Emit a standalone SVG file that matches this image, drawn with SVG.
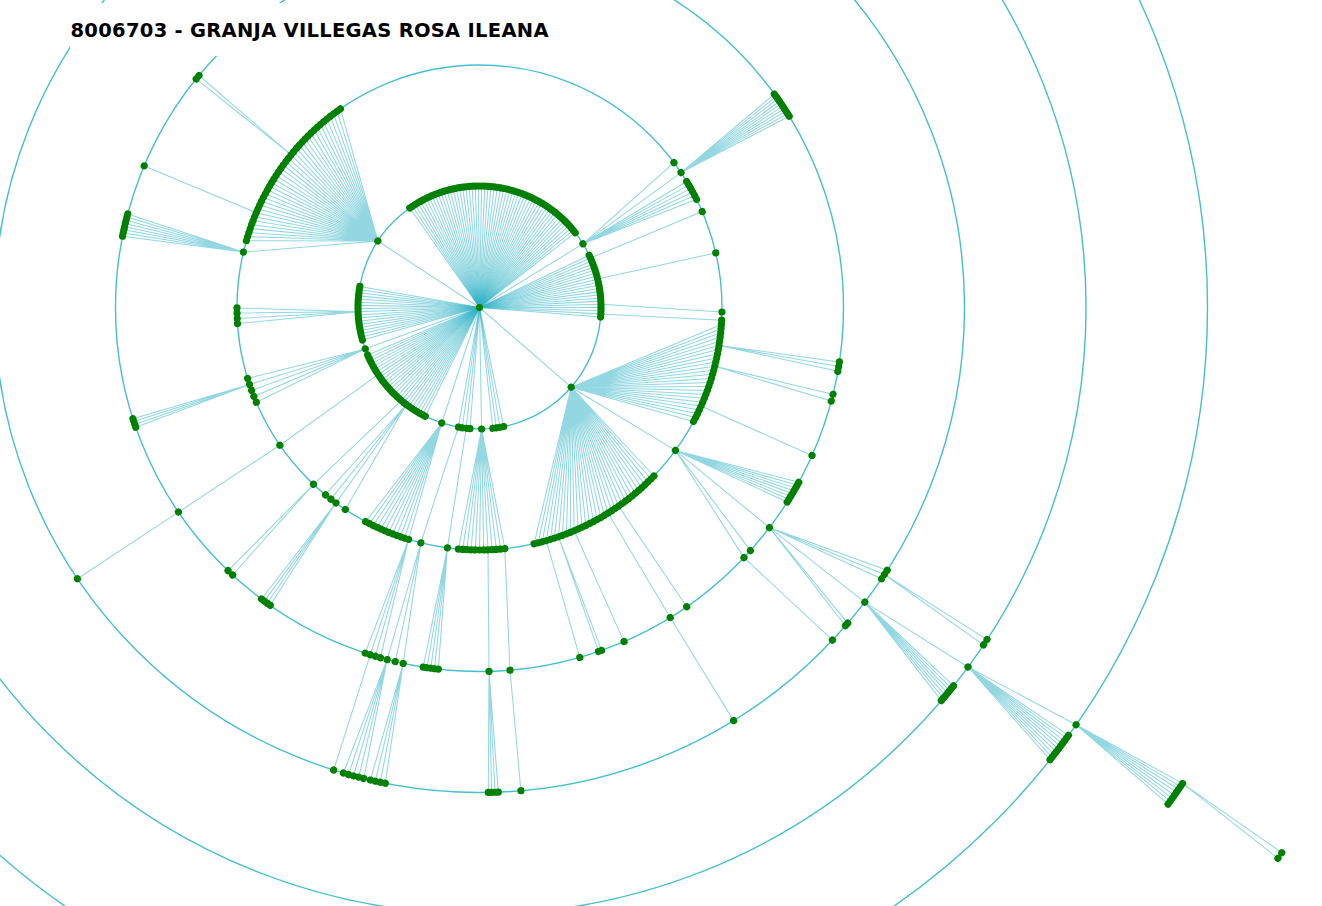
<svg xmlns="http://www.w3.org/2000/svg" xmlns:xlink="http://www.w3.org/1999/xlink" width="1322" height="906" viewBox="0 0 1322 906">
<style>
.ring{fill:none;stroke:#45bfd0;stroke-width:1.4}
.lk{fill:none;stroke:#38b6c8;stroke-opacity:.55;stroke-width:1.05}
.nd{fill:#008000}
.title{font-family:"DejaVu Sans","Liberation Sans",sans-serif;font-weight:bold;font-size:19.5px;fill:#000}
</style>
<defs>
<circle id="d1" cx="121.5" cy="0" r="3.6"/>
<circle id="d2" cx="242.5" cy="0" r="3.6"/>
<circle id="d3" cx="364" cy="0" r="3.6"/>
<circle id="d4" cx="485" cy="0" r="3.6"/>
<circle id="d5" cx="606.5" cy="0" r="3.6"/>
<circle id="d6" cx="728" cy="0" r="3.6"/>
<circle id="d7" cx="849" cy="0" r="3.6"/>
<circle id="d8" cx="970" cy="0" r="3.6"/>
<line id="s1" x1="0" y1="0" x2="121.5" y2="0"/>
</defs>
<rect width="1322" height="906" fill="#fff"/>
<g id="rings">
<circle class="ring" cx="479.5" cy="307.5" r="121.5"/>
<circle class="ring" cx="479.5" cy="307.5" r="242.5"/>
<circle class="ring" cx="479.5" cy="307.5" r="364"/>
<circle class="ring" cx="479.5" cy="307.5" r="485"/>
<circle class="ring" cx="479.5" cy="307.5" r="606.5"/>
<circle class="ring" cx="479.5" cy="307.5" r="728"/>
</g>
<g id="connectors" class="lk">
<g id="root-links" transform="translate(479.5 307.5)">
<use href="#s1" transform="rotate(-125)"/><use href="#s1" transform="rotate(-123.5)"/><use href="#s1" transform="rotate(-122)"/><use href="#s1" transform="rotate(-120.5)"/><use href="#s1" transform="rotate(-119)"/><use href="#s1" transform="rotate(-117.5)"/><use href="#s1" transform="rotate(-116)"/><use href="#s1" transform="rotate(-114.5)"/><use href="#s1" transform="rotate(-113)"/><use href="#s1" transform="rotate(-111.5)"/><use href="#s1" transform="rotate(-110)"/><use href="#s1" transform="rotate(-108.5)"/><use href="#s1" transform="rotate(-107)"/><use href="#s1" transform="rotate(-105.5)"/><use href="#s1" transform="rotate(-104)"/><use href="#s1" transform="rotate(-102.5)"/><use href="#s1" transform="rotate(-101)"/><use href="#s1" transform="rotate(-99.5)"/><use href="#s1" transform="rotate(-98)"/><use href="#s1" transform="rotate(-96.5)"/><use href="#s1" transform="rotate(-95)"/><use href="#s1" transform="rotate(-93.5)"/><use href="#s1" transform="rotate(-92)"/><use href="#s1" transform="rotate(-90.5)"/><use href="#s1" transform="rotate(-89)"/><use href="#s1" transform="rotate(-87.5)"/><use href="#s1" transform="rotate(-86)"/><use href="#s1" transform="rotate(-84.5)"/><use href="#s1" transform="rotate(-83)"/><use href="#s1" transform="rotate(-81.5)"/><use href="#s1" transform="rotate(-80)"/><use href="#s1" transform="rotate(-78.5)"/><use href="#s1" transform="rotate(-77)"/><use href="#s1" transform="rotate(-75.5)"/><use href="#s1" transform="rotate(-74)"/><use href="#s1" transform="rotate(-72.5)"/><use href="#s1" transform="rotate(-71)"/><use href="#s1" transform="rotate(-69.5)"/><use href="#s1" transform="rotate(-68)"/><use href="#s1" transform="rotate(-66.5)"/><use href="#s1" transform="rotate(-65)"/><use href="#s1" transform="rotate(-63.5)"/><use href="#s1" transform="rotate(-62)"/><use href="#s1" transform="rotate(-60.5)"/><use href="#s1" transform="rotate(-59)"/><use href="#s1" transform="rotate(-57.5)"/><use href="#s1" transform="rotate(-56)"/><use href="#s1" transform="rotate(-54.5)"/><use href="#s1" transform="rotate(-53)"/><use href="#s1" transform="rotate(-51.5)"/><use href="#s1" transform="rotate(-50)"/><use href="#s1" transform="rotate(-48.5)"/><use href="#s1" transform="rotate(-47)"/><use href="#s1" transform="rotate(-45.5)"/><use href="#s1" transform="rotate(-44)"/><use href="#s1" transform="rotate(-42.5)"/><use href="#s1" transform="rotate(-41)"/><use href="#s1" transform="rotate(-39.5)"/><use href="#s1" transform="rotate(-38)"/>
<use href="#s1" transform="rotate(-146.8)"/><use href="#s1" transform="rotate(-31.6)"/>
<use href="#s1" transform="rotate(-25.5)"/><use href="#s1" transform="rotate(-24)"/><use href="#s1" transform="rotate(-22.5)"/><use href="#s1" transform="rotate(-21)"/><use href="#s1" transform="rotate(-19.5)"/><use href="#s1" transform="rotate(-18)"/><use href="#s1" transform="rotate(-16.5)"/><use href="#s1" transform="rotate(-15)"/><use href="#s1" transform="rotate(-13.5)"/><use href="#s1" transform="rotate(-12)"/><use href="#s1" transform="rotate(-10.5)"/><use href="#s1" transform="rotate(-9)"/><use href="#s1" transform="rotate(-7.5)"/><use href="#s1" transform="rotate(-6)"/><use href="#s1" transform="rotate(-4.5)"/><use href="#s1" transform="rotate(-3)"/><use href="#s1" transform="rotate(-1.5)"/><use href="#s1" transform="rotate(0)"/><use href="#s1" transform="rotate(1.5)"/><use href="#s1" transform="rotate(3)"/><use href="#s1" transform="rotate(4.5)"/>
<use href="#s1" transform="rotate(41)"/>
<use href="#s1" transform="rotate(78.5)"/><use href="#s1" transform="rotate(80.3)"/><use href="#s1" transform="rotate(82)"/><use href="#s1" transform="rotate(83.7)"/>
<use href="#s1" transform="rotate(89)"/>
<use href="#s1" transform="rotate(94.5)"/><use href="#s1" transform="rotate(96.3)"/><use href="#s1" transform="rotate(98.2)"/><use href="#s1" transform="rotate(100)"/>
<use href="#s1" transform="rotate(108.1)"/>
<use href="#s1" transform="rotate(116.5)"/><use href="#s1" transform="rotate(118)"/><use href="#s1" transform="rotate(119.5)"/><use href="#s1" transform="rotate(121)"/><use href="#s1" transform="rotate(122.5)"/><use href="#s1" transform="rotate(124)"/><use href="#s1" transform="rotate(125.5)"/><use href="#s1" transform="rotate(127)"/><use href="#s1" transform="rotate(128.5)"/><use href="#s1" transform="rotate(130)"/><use href="#s1" transform="rotate(131.5)"/><use href="#s1" transform="rotate(133)"/><use href="#s1" transform="rotate(134.5)"/><use href="#s1" transform="rotate(136)"/><use href="#s1" transform="rotate(137.5)"/><use href="#s1" transform="rotate(139)"/><use href="#s1" transform="rotate(140.5)"/><use href="#s1" transform="rotate(142)"/><use href="#s1" transform="rotate(143.5)"/><use href="#s1" transform="rotate(145)"/><use href="#s1" transform="rotate(146.5)"/><use href="#s1" transform="rotate(148)"/><use href="#s1" transform="rotate(149.5)"/><use href="#s1" transform="rotate(151)"/><use href="#s1" transform="rotate(152.5)"/><use href="#s1" transform="rotate(154)"/><use href="#s1" transform="rotate(155.5)"/><use href="#s1" transform="rotate(157)"/>
<use href="#s1" transform="rotate(160.1)"/>
<use href="#s1" transform="rotate(164.5)"/><use href="#s1" transform="rotate(166)"/><use href="#s1" transform="rotate(167.5)"/><use href="#s1" transform="rotate(169)"/><use href="#s1" transform="rotate(170.5)"/><use href="#s1" transform="rotate(172)"/><use href="#s1" transform="rotate(173.5)"/><use href="#s1" transform="rotate(175)"/><use href="#s1" transform="rotate(176.5)"/><use href="#s1" transform="rotate(178)"/><use href="#s1" transform="rotate(179.5)"/><use href="#s1" transform="rotate(181)"/><use href="#s1" transform="rotate(182.5)"/><use href="#s1" transform="rotate(184)"/><use href="#s1" transform="rotate(185.5)"/><use href="#s1" transform="rotate(187)"/><use href="#s1" transform="rotate(188.5)"/><use href="#s1" transform="rotate(190)"/>
</g>
<path id="fanA" d="M377.8 241L246.4 240.7M377.8 241L247.6 236.6M377.8 241L248.9 232.6M377.8 241L250.2 228.5M377.8 241L251.6 224.6M377.8 241L253.1 220.6M377.8 241L254.7 216.7M377.8 241L256.3 212.8M377.8 241L258 208.9M377.8 241L259.7 205M377.8 241L261.5 201.2M377.8 241L263.4 197.4M377.8 241L265.4 193.7M377.8 241L267.4 189.9M377.8 241L269.5 186.3M377.8 241L271.6 182.6M377.8 241L273.9 179M377.8 241L276.1 175.4M377.8 241L278.5 171.9M377.8 241L280.8 168.4M377.8 241L283.3 165M377.8 241L285.8 161.6M377.8 241L288.4 158.2M377.8 241L291.1 154.9M377.8 241L293.7 151.6M377.8 241L296.5 148.4M377.8 241L299.3 145.2M377.8 241L302.1 142.1M377.8 241L305.1 139M377.8 241L308 136M377.8 241L311 133.1M377.8 241L314.1 130.1M377.8 241L317.2 127.3M377.8 241L320.4 124.5M377.8 241L323.6 121.7M377.8 241L326.9 119.1M377.8 241L330.2 116.4M377.8 241L333.6 113.8M377.8 241L337 111.3M377.8 241L340.4 108.8M377.8 241L243.4 252.1"/>
<path id="fanA-sub" d="M256.3 212.8L144.2 165.9M291.1 154.9L199 75.5M291.1 154.9L196.2 78.9M243.4 252.1L127.7 213.9M243.4 252.1L127 217.1M243.4 252.1L126.2 220.3M243.4 252.1L125.5 223.5M243.4 252.1L124.8 226.7M243.4 252.1L124.1 229.8M243.4 252.1L123.3 233M243.4 252.1L122.6 236.2"/>
<path id="fanB" d="M583 243.8L673.9 162.6M583 243.8L681 172.6M583 243.8L686.7 181.5M583 243.8L688.7 185.1M583 243.8L690.6 188.6M583 243.8L692.6 192.2M583 243.8L694.5 195.7M583 243.8L696.5 199.3M681 172.6L774.3 94.1M681 172.6L776 96.6M681 172.6L777.6 99M681 172.6L779.3 101.5M681 172.6L780.9 103.9M681 172.6L782.6 106.4M681 172.6L784.3 108.8M681 172.6L785.9 111.3M681 172.6L787.6 113.7M681 172.6L789.2 116.2"/>
<path id="right-singles" d="M590.5 258.1L702.2 211.6M597.6 279.1L715.8 252.9M601 304.3L722 312M600.8 313.9L721.7 320.2"/>
<path id="fanC" d="M571.2 387.2L721.4 324.4M571.2 387.2L721.1 328.7M571.2 387.2L720.7 332.8M571.2 387.2L720.2 337.1M571.2 387.2L719.7 341.3M571.2 387.2L719 345.4M571.2 387.2L718.3 349.6M571.2 387.2L717.5 353.8M571.2 387.2L716.7 357.9M571.2 387.2L715.8 362.1M571.2 387.2L714.8 366.2M571.2 387.2L713.7 370.3M571.2 387.2L712.6 374.3M571.2 387.2L711.4 378.4M571.2 387.2L710.1 382.4M571.2 387.2L708.8 386.5M571.2 387.2L707.4 390.4M571.2 387.2L705.9 394.4M571.2 387.2L704.4 398.3M571.2 387.2L702.7 402.2M571.2 387.2L701 406.1M571.2 387.2L699.3 410M571.2 387.2L697.5 413.8M571.2 387.2L695.6 417.6M571.2 387.2L693.6 421.4M571.2 387.2L675.4 450.4M571.2 387.2L653.9 476M571.2 387.2L651 479M571.2 387.2L648 481.9M571.2 387.2L644.9 484.9M571.2 387.2L641.8 487.7M571.2 387.2L638.6 490.5M571.2 387.2L635.4 493.3M571.2 387.2L632.1 496M571.2 387.2L628.8 498.6M571.2 387.2L625.4 501.2M571.2 387.2L622 503.7M571.2 387.2L618.6 506.2M571.2 387.2L615.1 508.5M571.2 387.2L611.6 510.9M571.2 387.2L608 513.1M571.2 387.2L604.4 515.4M571.2 387.2L600.8 517.5M571.2 387.2L597.1 519.6M571.2 387.2L593.4 521.6M571.2 387.2L589.6 523.6M571.2 387.2L585.8 525.5M571.2 387.2L582 527.3M571.2 387.2L578.1 529M571.2 387.2L574.2 530.7M571.2 387.2L570.3 532.4M571.2 387.2L566.4 533.9M571.2 387.2L562.4 535.4M571.2 387.2L558.5 536.8M571.2 387.2L554.4 538.1M571.2 387.2L550.4 539.4M571.2 387.2L546.3 540.6M571.2 387.2L542.3 541.7M571.2 387.2L538.2 542.8M571.2 387.2L534.1 543.8"/>
<path id="fanC-sub" d="M719 345.4L839.4 361.9M719 345.4L838.7 366.6M719 345.4L837.9 371.3M714.8 366.2L833 394.3M714.8 366.2L831.3 401.1M701 406.1L812 455.5M675.4 450.4L798.8 482.3M675.4 450.4L797.1 485.1M675.4 450.4L795.5 487.9M675.4 450.4L793.8 490.7M675.4 450.4L792.2 493.6M675.4 450.4L790.5 496.4M675.4 450.4L788.9 499.2M675.4 450.4L787.2 502M675.4 450.4L769.4 527.6M675.4 450.4L750.4 550.6M675.4 450.4L744 557.6M769.4 527.6L887.2 570.2M769.4 527.6L884.4 574.5M769.4 527.6L881.6 578.7M769.4 527.6L864.8 602.1M769.4 527.6L845.5 625.7M769.4 527.6L847.8 623.1M744 557.6L832.5 640.1M884.4 574.5L987 639.6M884.4 574.5L983.5 644.9M864.8 602.1L968 667M864.8 602.1L953.5 685.9M864.8 602.1L951.5 688.3M864.8 602.1L949.5 690.8M864.8 602.1L947.5 693.2M864.8 602.1L945.4 695.7M864.8 602.1L943.4 698.1M864.8 602.1L941.4 700.6M968 667L1076.1 724.8M968 667L1068.5 735.4M968 667L1066.4 738.1M968 667L1064.4 740.8M968 667L1062.3 743.5M968 667L1060.3 746.2M968 667L1058.2 748.9M968 667L1056.1 751.6M968 667L1054.1 754.3M968 667L1052 757M968 667L1050 759.7M1076.1 724.8L1182.6 783.4M1076.1 724.8L1180.5 786.4M1076.1 724.8L1178.5 789.3M1076.1 724.8L1176.4 792.3M1076.1 724.8L1174.3 795.3M1076.1 724.8L1172.2 798.3M1076.1 724.8L1170.2 801.2M1076.1 724.8L1168.1 804.2M1182.6 783.4L1281.8 852.7M1182.6 783.4L1277.9 858.3M546.3 540.6L579.8 657.4M558.5 536.8L601.6 650.4M558.5 536.8L598.6 651.4M574.2 530.7L624 641.6M608 513.1L670.2 617.5M618.6 506.2L686.7 606.7M670.2 617.5L733.6 720.6"/>
<path id="fanD" d="M481.6 429L504.8 548.7M481.6 429L500.7 549.1M481.6 429L496.4 549.4M481.6 429L492.2 549.7M481.6 429L488 549.9M481.6 429L483.7 550M481.6 429L479.5 550M481.6 429L475.3 550M481.6 429L471 549.9M481.6 429L466.8 549.7M481.6 429L462.6 549.4M481.6 429L458.4 549.1M488 549.9L489 671.4M489 671.4L488.3 792.4M489 671.4L491.6 792.3M489 671.4L495 792.2M489 671.4L498.3 792.1M504.8 548.7L510 670.2M510 670.2L520.9 790.7"/>
<path id="bottom-left" d="M466.2 428.3L447.4 547.9M447.4 547.9L438.3 669.2M447.4 547.9L434.5 668.7M447.4 547.9L430.8 668.2M447.4 547.9L427 667.6M447.4 547.9L423.2 667.1M458.4 427.2L420.8 542.8M420.8 542.8L387.1 659.6M420.8 542.8L395.2 661.6M420.8 542.8L403.2 663.4M387.1 659.6L363.8 778.5M387.1 659.6L358.7 777.1M387.1 659.6L353.6 775.8M387.1 659.6L348.5 774.4M387.1 659.6L343.4 773M403.2 663.4L385.3 783.3M403.2 663.4L380.3 782.2M403.2 663.4L375.4 781.2M403.2 663.4L370.4 780.1"/>
<path id="fanE" d="M441.7 423L408.6 539.4M441.7 423L404.6 538.1M441.7 423L400.5 536.8M441.7 423L396.6 535.4M441.7 423L392.6 533.9M441.7 423L388.7 532.4M441.7 423L384.8 530.7M441.7 423L380.9 529M441.7 423L377 527.3M441.7 423L373.2 525.5M441.7 423L369.4 523.6M441.7 423L365.7 521.6M408.6 539.4L380.4 657.7M408.6 539.4L375.3 656.2M408.6 539.4L370.3 654.6M408.6 539.4L365.2 653.1M370.3 654.6L333.7 770"/>
<path id="left-links" d="M406.4 404.5L345.3 509.5M406.4 404.5L335.9 502.9M406.4 404.5L330.9 499.1M406.4 404.5L325.2 494.6M335.9 502.9L270.2 605.3M335.9 502.9L267.3 603.2M335.9 502.9L264.4 601.1M335.9 502.9L261.5 599M401.4 400.6L313.5 484.3M313.5 484.3L228 570.7M313.5 484.3L232.6 575M378.2 374.6L279.9 445.2L178.4 512.1L77.4 578.7M365.3 348.9L256.3 402.2M365.3 348.9L253.9 396.4M365.3 348.9L251.6 390.4M365.3 348.9L249.5 384.4M365.3 348.9L247.6 378.4M249.5 384.4L135.7 427.2M249.5 384.4L134.8 424.4M249.5 384.4L133.8 421.6M249.5 384.4L132.9 418.8M358.1 311.7L237.5 323.6M358.1 311.7L237.2 318.5M358.1 311.7L237.1 313M358.1 311.7L237 307.9"/>
</g>
<g id="nodes" class="nd" transform="translate(479.5 307.5)">
<circle id="root" cx="0" cy="0" r="3.6"/>
<g id="ring1">
<use href="#d1" transform="rotate(-125)"/><use href="#d1" transform="rotate(-123.5)"/><use href="#d1" transform="rotate(-122)"/><use href="#d1" transform="rotate(-120.5)"/><use href="#d1" transform="rotate(-119)"/><use href="#d1" transform="rotate(-117.5)"/><use href="#d1" transform="rotate(-116)"/><use href="#d1" transform="rotate(-114.5)"/><use href="#d1" transform="rotate(-113)"/><use href="#d1" transform="rotate(-111.5)"/><use href="#d1" transform="rotate(-110)"/><use href="#d1" transform="rotate(-108.5)"/><use href="#d1" transform="rotate(-107)"/><use href="#d1" transform="rotate(-105.5)"/><use href="#d1" transform="rotate(-104)"/><use href="#d1" transform="rotate(-102.5)"/><use href="#d1" transform="rotate(-101)"/><use href="#d1" transform="rotate(-99.5)"/><use href="#d1" transform="rotate(-98)"/><use href="#d1" transform="rotate(-96.5)"/><use href="#d1" transform="rotate(-95)"/><use href="#d1" transform="rotate(-93.5)"/><use href="#d1" transform="rotate(-92)"/><use href="#d1" transform="rotate(-90.5)"/><use href="#d1" transform="rotate(-89)"/><use href="#d1" transform="rotate(-87.5)"/><use href="#d1" transform="rotate(-86)"/><use href="#d1" transform="rotate(-84.5)"/><use href="#d1" transform="rotate(-83)"/><use href="#d1" transform="rotate(-81.5)"/><use href="#d1" transform="rotate(-80)"/><use href="#d1" transform="rotate(-78.5)"/><use href="#d1" transform="rotate(-77)"/><use href="#d1" transform="rotate(-75.5)"/><use href="#d1" transform="rotate(-74)"/><use href="#d1" transform="rotate(-72.5)"/><use href="#d1" transform="rotate(-71)"/><use href="#d1" transform="rotate(-69.5)"/><use href="#d1" transform="rotate(-68)"/><use href="#d1" transform="rotate(-66.5)"/><use href="#d1" transform="rotate(-65)"/><use href="#d1" transform="rotate(-63.5)"/><use href="#d1" transform="rotate(-62)"/><use href="#d1" transform="rotate(-60.5)"/><use href="#d1" transform="rotate(-59)"/><use href="#d1" transform="rotate(-57.5)"/><use href="#d1" transform="rotate(-56)"/><use href="#d1" transform="rotate(-54.5)"/><use href="#d1" transform="rotate(-53)"/><use href="#d1" transform="rotate(-51.5)"/><use href="#d1" transform="rotate(-50)"/><use href="#d1" transform="rotate(-48.5)"/><use href="#d1" transform="rotate(-47)"/><use href="#d1" transform="rotate(-45.5)"/><use href="#d1" transform="rotate(-44)"/><use href="#d1" transform="rotate(-42.5)"/><use href="#d1" transform="rotate(-41)"/><use href="#d1" transform="rotate(-39.5)"/><use href="#d1" transform="rotate(-38)"/>
<use id="p1a" href="#d1" transform="rotate(-146.8)"/><use id="p1b" href="#d1" transform="rotate(-31.6)"/>
<use href="#d1" transform="rotate(-25.5)"/><use href="#d1" transform="rotate(-24)"/><use href="#d1" transform="rotate(-22.5)"/><use href="#d1" transform="rotate(-21)"/><use href="#d1" transform="rotate(-19.5)"/><use href="#d1" transform="rotate(-18)"/><use href="#d1" transform="rotate(-16.5)"/><use href="#d1" transform="rotate(-15)"/><use href="#d1" transform="rotate(-13.5)"/><use href="#d1" transform="rotate(-12)"/><use href="#d1" transform="rotate(-10.5)"/><use href="#d1" transform="rotate(-9)"/><use href="#d1" transform="rotate(-7.5)"/><use href="#d1" transform="rotate(-6)"/><use href="#d1" transform="rotate(-4.5)"/><use href="#d1" transform="rotate(-3)"/><use href="#d1" transform="rotate(-1.5)"/><use href="#d1" transform="rotate(0)"/><use href="#d1" transform="rotate(1.5)"/><use href="#d1" transform="rotate(3)"/><use href="#d1" transform="rotate(4.5)"/>
<use id="p1c" href="#d1" transform="rotate(41)"/>
<use href="#d1" transform="rotate(78.5)"/><use href="#d1" transform="rotate(80.3)"/><use href="#d1" transform="rotate(82)"/><use href="#d1" transform="rotate(83.7)"/>
<use id="p1d" href="#d1" transform="rotate(89)"/>
<use href="#d1" transform="rotate(94.5)"/><use href="#d1" transform="rotate(96.3)"/><use href="#d1" transform="rotate(98.2)"/><use href="#d1" transform="rotate(100)"/>
<use id="p1e" href="#d1" transform="rotate(108.1)"/>
<use href="#d1" transform="rotate(116.5)"/><use href="#d1" transform="rotate(118)"/><use href="#d1" transform="rotate(119.5)"/><use href="#d1" transform="rotate(121)"/><use href="#d1" transform="rotate(122.5)"/><use href="#d1" transform="rotate(124)"/><use href="#d1" transform="rotate(125.5)"/><use href="#d1" transform="rotate(127)"/><use href="#d1" transform="rotate(128.5)"/><use href="#d1" transform="rotate(130)"/><use href="#d1" transform="rotate(131.5)"/><use href="#d1" transform="rotate(133)"/><use href="#d1" transform="rotate(134.5)"/><use href="#d1" transform="rotate(136)"/><use href="#d1" transform="rotate(137.5)"/><use href="#d1" transform="rotate(139)"/><use href="#d1" transform="rotate(140.5)"/><use href="#d1" transform="rotate(142)"/><use href="#d1" transform="rotate(143.5)"/><use href="#d1" transform="rotate(145)"/><use href="#d1" transform="rotate(146.5)"/><use href="#d1" transform="rotate(148)"/><use href="#d1" transform="rotate(149.5)"/><use href="#d1" transform="rotate(151)"/><use href="#d1" transform="rotate(152.5)"/><use href="#d1" transform="rotate(154)"/><use href="#d1" transform="rotate(155.5)"/><use href="#d1" transform="rotate(157)"/>
<use id="p1f" href="#d1" transform="rotate(160.1)"/>
<use href="#d1" transform="rotate(164.5)"/><use href="#d1" transform="rotate(166)"/><use href="#d1" transform="rotate(167.5)"/><use href="#d1" transform="rotate(169)"/><use href="#d1" transform="rotate(170.5)"/><use href="#d1" transform="rotate(172)"/><use href="#d1" transform="rotate(173.5)"/><use href="#d1" transform="rotate(175)"/><use href="#d1" transform="rotate(176.5)"/><use href="#d1" transform="rotate(178)"/><use href="#d1" transform="rotate(179.5)"/><use href="#d1" transform="rotate(181)"/><use href="#d1" transform="rotate(182.5)"/><use href="#d1" transform="rotate(184)"/><use href="#d1" transform="rotate(185.5)"/><use href="#d1" transform="rotate(187)"/><use href="#d1" transform="rotate(188.5)"/><use href="#d1" transform="rotate(190)"/>
</g>
<g id="ring2">
<use href="#d2" transform="rotate(-164)"/><use href="#d2" transform="rotate(-163)"/><use href="#d2" transform="rotate(-162)"/><use href="#d2" transform="rotate(-161)"/><use href="#d2" transform="rotate(-160)"/><use href="#d2" transform="rotate(-159)"/><use href="#d2" transform="rotate(-158)"/><use href="#d2" transform="rotate(-157)"/><use href="#d2" transform="rotate(-156)"/><use href="#d2" transform="rotate(-155)"/><use href="#d2" transform="rotate(-154)"/><use href="#d2" transform="rotate(-153)"/><use href="#d2" transform="rotate(-152)"/><use href="#d2" transform="rotate(-151)"/><use href="#d2" transform="rotate(-150)"/><use href="#d2" transform="rotate(-149)"/><use href="#d2" transform="rotate(-148)"/><use href="#d2" transform="rotate(-147)"/><use href="#d2" transform="rotate(-146)"/><use href="#d2" transform="rotate(-145)"/><use href="#d2" transform="rotate(-144)"/><use href="#d2" transform="rotate(-143)"/><use href="#d2" transform="rotate(-142)"/><use href="#d2" transform="rotate(-141)"/><use href="#d2" transform="rotate(-140)"/><use href="#d2" transform="rotate(-139)"/><use href="#d2" transform="rotate(-138)"/><use href="#d2" transform="rotate(-137)"/><use href="#d2" transform="rotate(-136)"/><use href="#d2" transform="rotate(-135)"/><use href="#d2" transform="rotate(-134)"/><use href="#d2" transform="rotate(-133)"/><use href="#d2" transform="rotate(-132)"/><use href="#d2" transform="rotate(-131)"/><use href="#d2" transform="rotate(-130)"/><use href="#d2" transform="rotate(-129)"/><use href="#d2" transform="rotate(-128)"/><use href="#d2" transform="rotate(-127)"/><use href="#d2" transform="rotate(-126)"/><use href="#d2" transform="rotate(-125)"/>
<use href="#d2" transform="rotate(-166.8)"/>
<use href="#d2" transform="rotate(-36.7)"/><use href="#d2" transform="rotate(-33.8)"/><use href="#d2" transform="rotate(-31.3)"/><use href="#d2" transform="rotate(-30.3)"/><use href="#d2" transform="rotate(-29.4)"/><use href="#d2" transform="rotate(-28.4)"/><use href="#d2" transform="rotate(-27.5)"/><use href="#d2" transform="rotate(-26.5)"/>
<use href="#d2" transform="rotate(-23.3)"/><use href="#d2" transform="rotate(-13)"/><use href="#d2" transform="rotate(1.06)"/><use href="#d2" transform="rotate(3)"/>
<use href="#d2" transform="rotate(4)"/><use href="#d2" transform="rotate(5)"/><use href="#d2" transform="rotate(6)"/><use href="#d2" transform="rotate(7)"/><use href="#d2" transform="rotate(8)"/><use href="#d2" transform="rotate(9)"/><use href="#d2" transform="rotate(10)"/><use href="#d2" transform="rotate(11)"/><use href="#d2" transform="rotate(12)"/><use href="#d2" transform="rotate(13)"/><use href="#d2" transform="rotate(14)"/><use href="#d2" transform="rotate(15)"/><use href="#d2" transform="rotate(16)"/><use href="#d2" transform="rotate(17)"/><use href="#d2" transform="rotate(18)"/><use href="#d2" transform="rotate(19)"/><use href="#d2" transform="rotate(20)"/><use href="#d2" transform="rotate(21)"/><use href="#d2" transform="rotate(22)"/><use href="#d2" transform="rotate(23)"/><use href="#d2" transform="rotate(24)"/><use href="#d2" transform="rotate(25)"/><use href="#d2" transform="rotate(26)"/><use href="#d2" transform="rotate(27)"/><use href="#d2" transform="rotate(28)"/>
<use href="#d2" transform="rotate(36.1)"/>
<use href="#d2" transform="rotate(44)"/><use href="#d2" transform="rotate(45)"/><use href="#d2" transform="rotate(46)"/><use href="#d2" transform="rotate(47)"/><use href="#d2" transform="rotate(48)"/><use href="#d2" transform="rotate(49)"/><use href="#d2" transform="rotate(50)"/><use href="#d2" transform="rotate(51)"/><use href="#d2" transform="rotate(52)"/><use href="#d2" transform="rotate(53)"/><use href="#d2" transform="rotate(54)"/><use href="#d2" transform="rotate(55)"/><use href="#d2" transform="rotate(56)"/><use href="#d2" transform="rotate(57)"/><use href="#d2" transform="rotate(58)"/><use href="#d2" transform="rotate(59)"/><use href="#d2" transform="rotate(60)"/><use href="#d2" transform="rotate(61)"/><use href="#d2" transform="rotate(62)"/><use href="#d2" transform="rotate(63)"/><use href="#d2" transform="rotate(64)"/><use href="#d2" transform="rotate(65)"/><use href="#d2" transform="rotate(66)"/><use href="#d2" transform="rotate(67)"/><use href="#d2" transform="rotate(68)"/><use href="#d2" transform="rotate(69)"/><use href="#d2" transform="rotate(70)"/><use href="#d2" transform="rotate(71)"/><use href="#d2" transform="rotate(72)"/><use href="#d2" transform="rotate(73)"/><use href="#d2" transform="rotate(74)"/><use href="#d2" transform="rotate(75)"/><use href="#d2" transform="rotate(76)"/><use href="#d2" transform="rotate(77)"/>
<use href="#d2" transform="rotate(84)"/><use href="#d2" transform="rotate(85)"/><use href="#d2" transform="rotate(86)"/><use href="#d2" transform="rotate(87)"/><use href="#d2" transform="rotate(88)"/><use href="#d2" transform="rotate(89)"/><use href="#d2" transform="rotate(90)"/><use href="#d2" transform="rotate(91)"/><use href="#d2" transform="rotate(92)"/><use href="#d2" transform="rotate(93)"/><use href="#d2" transform="rotate(94)"/><use href="#d2" transform="rotate(95)"/>
<use href="#d2" transform="rotate(97.6)"/><use href="#d2" transform="rotate(104)"/>
<use href="#d2" transform="rotate(107)"/><use href="#d2" transform="rotate(108)"/><use href="#d2" transform="rotate(109)"/><use href="#d2" transform="rotate(110)"/><use href="#d2" transform="rotate(111)"/><use href="#d2" transform="rotate(112)"/><use href="#d2" transform="rotate(113)"/><use href="#d2" transform="rotate(114)"/><use href="#d2" transform="rotate(115)"/><use href="#d2" transform="rotate(116)"/><use href="#d2" transform="rotate(117)"/><use href="#d2" transform="rotate(118)"/>
<use href="#d2" transform="rotate(123.6)"/><use href="#d2" transform="rotate(126.3)"/><use href="#d2" transform="rotate(127.8)"/><use href="#d2" transform="rotate(129.4)"/><use href="#d2" transform="rotate(133.2)"/><use href="#d2" transform="rotate(145.4)"/>
<use href="#d2" transform="rotate(157)"/><use href="#d2" transform="rotate(158.5)"/><use href="#d2" transform="rotate(160)"/><use href="#d2" transform="rotate(161.5)"/><use href="#d2" transform="rotate(163)"/>
<use href="#d2" transform="rotate(176.2)"/><use href="#d2" transform="rotate(177.4)"/><use href="#d2" transform="rotate(178.7)"/><use href="#d2" transform="rotate(179.9)"/>
</g>
<g id="ring3">
<use href="#d3" transform="rotate(-165.1)"/><use href="#d3" transform="rotate(-165.6)"/><use href="#d3" transform="rotate(-166.1)"/><use href="#d3" transform="rotate(-166.6)"/><use href="#d3" transform="rotate(-167.2)"/><use href="#d3" transform="rotate(-167.7)"/><use href="#d3" transform="rotate(-168.2)"/><use href="#d3" transform="rotate(-168.7)"/>
<use href="#d3" transform="rotate(-157.1)"/><use href="#d3" transform="rotate(-140.4)"/><use href="#d3" transform="rotate(-141.1)"/>
<use href="#d3" transform="rotate(-35.9)"/><use href="#d3" transform="rotate(-35.43)"/><use href="#d3" transform="rotate(-34.97)"/><use href="#d3" transform="rotate(-34.5)"/><use href="#d3" transform="rotate(-34.03)"/><use href="#d3" transform="rotate(-33.57)"/><use href="#d3" transform="rotate(-33.1)"/><use href="#d3" transform="rotate(-32.63)"/><use href="#d3" transform="rotate(-32.17)"/><use href="#d3" transform="rotate(-31.7)"/>
<use href="#d3" transform="rotate(8.6)"/><use href="#d3" transform="rotate(9.35)"/><use href="#d3" transform="rotate(10.1)"/><use href="#d3" transform="rotate(13.8)"/><use href="#d3" transform="rotate(14.9)"/><use href="#d3" transform="rotate(24)"/>
<use href="#d3" transform="rotate(28.7)"/><use href="#d3" transform="rotate(29.21)"/><use href="#d3" transform="rotate(29.73)"/><use href="#d3" transform="rotate(30.24)"/><use href="#d3" transform="rotate(30.76)"/><use href="#d3" transform="rotate(31.27)"/><use href="#d3" transform="rotate(31.79)"/><use href="#d3" transform="rotate(32.3)"/>
<use href="#d3" transform="rotate(37.2)"/><use href="#d3" transform="rotate(41.9)"/><use href="#d3" transform="rotate(43.4)"/>
<use href="#d3" transform="rotate(74)"/><use href="#d3" transform="rotate(70.4)"/><use href="#d3" transform="rotate(70.9)"/><use href="#d3" transform="rotate(66.6)"/><use href="#d3" transform="rotate(58.4)"/><use href="#d3" transform="rotate(55.3)"/>
<use href="#d3" transform="rotate(88.5)"/><use href="#d3" transform="rotate(85.2)"/>
<use href="#d3" transform="rotate(96.5)"/><use href="#d3" transform="rotate(97.1)"/><use href="#d3" transform="rotate(97.7)"/><use href="#d3" transform="rotate(98.3)"/><use href="#d3" transform="rotate(98.9)"/>
<use href="#d3" transform="rotate(104.7)"/><use href="#d3" transform="rotate(103.4)"/><use href="#d3" transform="rotate(102.1)"/>
<use href="#d3" transform="rotate(105.8)"/><use href="#d3" transform="rotate(106.63)"/><use href="#d3" transform="rotate(107.47)"/><use href="#d3" transform="rotate(108.3)"/>
<use href="#d3" transform="rotate(125.1)"/><use href="#d3" transform="rotate(125.67)"/><use href="#d3" transform="rotate(126.23)"/><use href="#d3" transform="rotate(126.8)"/>
<use href="#d3" transform="rotate(133.7)"/><use href="#d3" transform="rotate(132.7)"/><use href="#d3" transform="rotate(145.8)"/>
<use href="#d3" transform="rotate(160.8)"/><use href="#d3" transform="rotate(161.27)"/><use href="#d3" transform="rotate(161.73)"/><use href="#d3" transform="rotate(162.2)"/>
</g>
<g id="ring4">
<use href="#d4" transform="rotate(58.4)"/><use href="#d4" transform="rotate(32.8)"/><use href="#d4" transform="rotate(33.4)"/><use href="#d4" transform="rotate(34)"/><use href="#d4" transform="rotate(37.4)"/><use href="#d4" transform="rotate(41)"/><use href="#d4" transform="rotate(40.6)"/><use href="#d4" transform="rotate(43.3)"/>
<use href="#d4" transform="rotate(88.96)"/><use href="#d4" transform="rotate(88.57)"/><use href="#d4" transform="rotate(88.17)"/><use href="#d4" transform="rotate(87.78)"/><use href="#d4" transform="rotate(85.1)"/>
<use href="#d4" transform="rotate(103.8)"/><use href="#d4" transform="rotate(104.43)"/><use href="#d4" transform="rotate(105.05)"/><use href="#d4" transform="rotate(105.68)"/><use href="#d4" transform="rotate(106.3)"/>
<use href="#d4" transform="rotate(101.2)"/><use href="#d4" transform="rotate(101.8)"/><use href="#d4" transform="rotate(102.4)"/><use href="#d4" transform="rotate(103)"/>
<use href="#d4" transform="rotate(107.5)"/><use href="#d4" transform="rotate(146)"/>
</g>
<g id="ring5">
<use href="#d5" transform="rotate(33.2)"/><use href="#d5" transform="rotate(33.8)"/><use href="#d5" transform="rotate(36.35)"/>
<use href="#d5" transform="rotate(38.6)"/><use href="#d5" transform="rotate(38.9)"/><use href="#d5" transform="rotate(39.2)"/><use href="#d5" transform="rotate(39.5)"/><use href="#d5" transform="rotate(39.8)"/><use href="#d5" transform="rotate(40.1)"/><use href="#d5" transform="rotate(40.4)"/>
</g>
<g id="ring6">
<use href="#d6" transform="rotate(34.97)"/>
<use href="#d6" transform="rotate(36)"/><use href="#d6" transform="rotate(36.27)"/><use href="#d6" transform="rotate(36.53)"/><use href="#d6" transform="rotate(36.8)"/><use href="#d6" transform="rotate(37.07)"/><use href="#d6" transform="rotate(37.33)"/><use href="#d6" transform="rotate(37.6)"/><use href="#d6" transform="rotate(37.87)"/><use href="#d6" transform="rotate(38.13)"/><use href="#d6" transform="rotate(38.4)"/>
</g>
<g id="ring7">
<use href="#d7" transform="rotate(34.1)"/><use href="#d7" transform="rotate(34.34)"/><use href="#d7" transform="rotate(34.59)"/><use href="#d7" transform="rotate(34.83)"/><use href="#d7" transform="rotate(35.07)"/><use href="#d7" transform="rotate(35.31)"/><use href="#d7" transform="rotate(35.56)"/><use href="#d7" transform="rotate(35.8)"/>
</g>
<g id="ring8">
<use href="#d8" transform="rotate(34.2)"/><use href="#d8" transform="rotate(34.6)"/>
</g>
</g>
<g id="title">
<rect x="70" y="3" width="490" height="53" fill="#fff"/>
<text class="title" x="70.5" y="37" textLength="478" lengthAdjust="spacing">8006703 - GRANJA VILLEGAS ROSA ILEANA</text>
</g>
</svg>
